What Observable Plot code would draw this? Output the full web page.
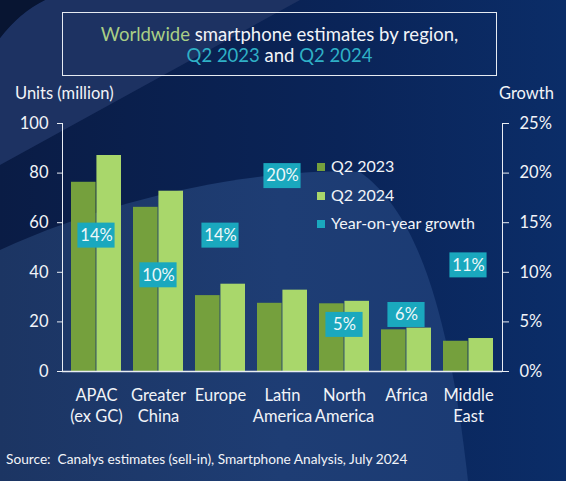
<!DOCTYPE html>
<html>
<head>
<meta charset="utf-8">
<script src="https://cdn.jsdelivr.net/npm/d3@7"></script>
<script src="https://cdn.jsdelivr.net/npm/@observablehq/plot@0.6"></script>
<style>
  html, body { margin: 0; padding: 0; background: #0b2355; }
  #wrap { position: relative; width: 566px; height: 481px; overflow: hidden; font-family: Lato, "Open Sans", sans-serif; color: #f2f4f8; }
  #bg { position: absolute; left: 0; top: 0; }
  #chart { position: absolute; left: 0; top: 0; }
  #titlebox { position: absolute; left: 62px; top: 12px; width: 433px; height: 62px; border: 1.5px solid #e6ebf2; box-sizing: content-box; text-align: center; font-size: 18.5px; line-height: 21px; }
  #titlebox .l1 { position: absolute; left: 0; right: 0; top: 11px; }
  #titlebox .l2 { position: absolute; left: 0; right: 0; top: 32px; }
  .green { color: #a9cf86; }
  .teal { color: #2fb0c6; }
  .lbl { position: absolute; font-size: 16.5px; white-space: nowrap; }
  .leg { position: absolute; left: 317px; font-size: 16px; white-space: nowrap; }
  .leg i { display: inline-block; width: 8px; height: 8px; margin-right: 6px; vertical-align: 1px; }
  #source { position: absolute; left: 6px; top: 450px; font-size: 13.7px; white-space: nowrap; }
</style>
</head>
<body>
<div id="wrap">
  <svg id="bg" width="566" height="481">
    <defs>
      <linearGradient id="base" x1="0" y1="0" x2="1" y2="0">
        <stop offset="0" stop-color="#0a1c45"/>
        <stop offset="0.6" stop-color="#0a2458"/>
        <stop offset="1" stop-color="#0b2d68"/>
      </linearGradient>
      <linearGradient id="circ" x1="0" y1="0" x2="1" y2="0">
        <stop offset="0" stop-color="#1c3563"/>
        <stop offset="0.6" stop-color="#1e3d74"/>
        <stop offset="1" stop-color="#1b3b74"/>
      </linearGradient>
    </defs>
    <rect width="566" height="481" fill="url(#base)"/>
    <path d="M45,0 L300,0 L0,165 L0,38 Q20,12 45,0 Z" fill="#1d3262"/>
    <path d="M0,250 C120,195 260,168 360,172 C420,215 450,320 468,481 L0,481 Z" fill="url(#circ)"/>
    <path d="M0,0 L45,0 Q20,12 0,38 Z" fill="#081532"/>
  </svg>
  <div id="chart"></div>
  <div id="titlebox">
    <div class="l1"><span class="green">Worldwide</span> smartphone estimates by region,</div>
    <div class="l2"><span class="teal">Q2 2023</span> and <span class="teal">Q2 2024</span></div>
  </div>
  <div class="lbl" style="left:15px; top:83px;">Units (million)</div>
  <div class="lbl" style="left:499px; top:83px;">Growth</div>
  <div class="leg" style="top:156px;"><i style="background:#75a03d"></i>Q2 2023</div>
  <div class="leg" style="top:185px;"><i style="background:#a9d76b"></i>Q2 2024</div>
  <div class="leg" style="top:213px;"><i style="background:#1aa8be"></i>Year-on-year growth</div>
  <div id="source">Source:&nbsp; Canalys estimates (sell-in), Smartphone Analysis, July 2024</div>
</div>
<script>
const regions = ["APAC\n(ex GC)", "Greater\nChina", "Europe", "Latin\nAmerica", "North\nAmerica", "Africa", "Middle\nEast"];
const q2_2023 = [76.3, 66.2, 30.6, 27.5, 27.3, 16.8, 12.2];
const q2_2024 = [87.1, 72.7, 35.2, 32.8, 28.3, 17.5, 13.3];
const growth = [14, 10, 14, 20, 5, 6, 11];
const unitTicks = [0, 20, 40, 60, 80, 100];

const data = regions.map((r, i) => ({region: r, q23: q2_2023[i], q24: q2_2024[i], g: growth[i]}));

const W = 566, H = 481, mL = 62, mR = 64, mT = 123, mB = 110;
const pI = 0.19, pO = 0.1;
const step = (W - mL - mR) / (regions.length - pI + 2 * pO);
const bw = step * (1 - pI);
const boxW = 38;
const pxPerUnit = (H - mT - mB) / 100;
const boxHalf = 12.5 / pxPerUnit;
const boxShift = 3 / pxPerUnit;
const g2u = g => g * 4; // 25% ↔ 100 units

const axisColor = "#e9edf3";

const plot = Plot.plot({
  width: W,
  height: H,
  marginLeft: mL, marginRight: mR, marginTop: mT, marginBottom: mB,
  style: {background: "transparent", color: "#f2f4f8", fontFamily: "Lato, 'Open Sans', sans-serif", fontSize: "16.5px", overflow: "visible"},
  x: {domain: regions, paddingInner: pI, paddingOuter: pO, label: null},
  y: {domain: [0, 100], label: null},
  marks: [
    Plot.barY(data, {x: "region", y: "q23", fill: "#75a03d", insetRight: bw / 2}),
    Plot.barY(data, {x: "region", y: "q24", fill: "#a9d76b", insetLeft: bw / 2}),
    Plot.barY(data, {x: "region", y1: d => g2u(d.g) - boxShift - boxHalf, y2: d => g2u(d.g) - boxShift + boxHalf, fill: "#1aa8be", insetLeft: (bw - boxW) / 2, insetRight: (bw - boxW) / 2}),
    Plot.text(data, {x: "region", y: d => g2u(d.g), dy: 3, text: d => d.g + "%", fill: "#eef8fa", fontSize: 16.5}),
    Plot.ruleY([0], {stroke: axisColor, strokeWidth: 1.5}),
    Plot.frame({anchor: "left", stroke: axisColor}),
    Plot.frame({anchor: "right", stroke: axisColor}),
    Plot.axisY({anchor: "left", ticks: unitTicks, tickSize: 5, tickPadding: 9, label: null, stroke: axisColor}),
    Plot.axisY({anchor: "right", ticks: unitTicks, tickSize: 6, tickPadding: 11, label: null, tickFormat: d => (d / 4) + "%", stroke: axisColor}),
    Plot.axisX({anchor: "bottom", tickSize: 0, tickPadding: 14, label: null, lineHeight: 1.3})
  ]
});
document.getElementById("chart").appendChild(plot);
</script>
</body>
</html>
